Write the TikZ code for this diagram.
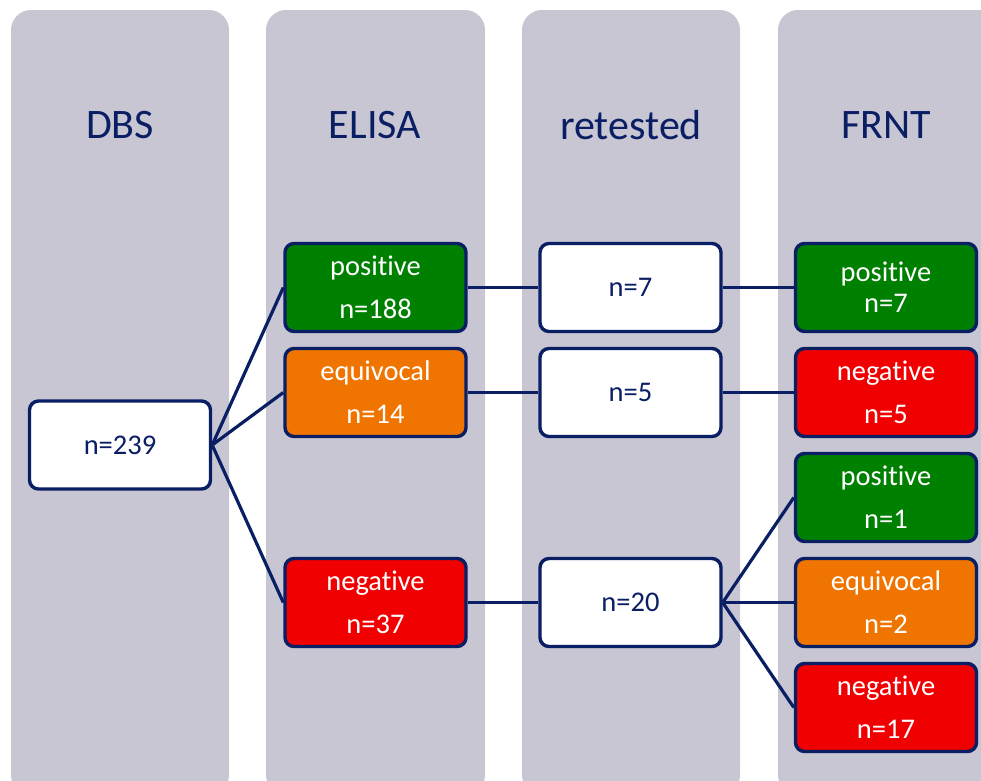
\documentclass[tikz,border=0pt]{standalone}
\usepackage{fontspec}
\setmainfont[Ligatures={NoCommon}]{Carlito}
\definecolor{navy}{RGB}{10,30,100}
\definecolor{colfill}{RGB}{200,198,210}
\definecolor{pgreen}{RGB}{0,128,0}
\definecolor{porange}{RGB}{240,117,0}
\definecolor{pred}{RGB}{240,0,0}
\begin{document}
\begin{tikzpicture}[x=1pt,y=-1pt,
  column/.style={fill=colfill, rounded corners=20pt},
  title/.style={text=navy, font=\fontsize{42}{46}\selectfont},
  box/.style={draw=navy, line width=3.4pt, rounded corners=9pt, minimum width=181pt, minimum height=88pt, inner sep=0pt, align=center, font=\fontsize{28.5}{43}\selectfont},
  wbox/.style={box, fill=white, text=navy},
  gbox/.style={box, fill=pgreen, text=white},
  obox/.style={box, fill=porange, text=white},
  rbox/.style={box, fill=pred, text=white},
  link/.style={draw=navy, line width=3.2pt}
]
\useasboundingbox (0,0) rectangle (981,780);
\clip (0,0) rectangle (981,780);
% columns
\fill[column] (11,10) rectangle (229,795);
\fill[column] (266,10) rectangle (485,795);
\fill[column] (522,10) rectangle (740,795);
\fill[column] (778,10) rectangle (1000,795);
% titles
\node[title] (tDBS) at (120,125) {DBS};
\node[title] (tELISA) at (375,125) {ELISA};
\node[title] (tRet) at (631,125) {retested};
\node[title] (tFRNT) at (886,125) {FRNT};
% boxes
\node[wbox] (dbs) at (120,445) {n=239};
\node[gbox] (epos) at (375.5,287.5) {positive\\n=188};
\node[obox] (eequ) at (375.5,392.5) {equivocal\\n=14};
\node[rbox] (eneg) at (375.5,602.5) {negative\\n=37};
\node[wbox] (r7) at (630.5,287.5) {n=7};
\node[wbox] (r5) at (630.5,392.5) {n=5};
\node[wbox] (r20) at (630.5,602.5) {n=20};
\node[gbox, font=\fontsize{28.5}{31}\selectfont] (fpos7) at (886,287.5) {positive\\n=7};
\node[rbox] (fneg5) at (886,392.5) {negative\\n=5};
\node[gbox] (fpos1) at (886,497.5) {positive\\n=1};
\node[obox] (fequ2) at (886,602.5) {equivocal\\n=2};
\node[rbox] (fneg17) at (886,707.5) {negative\\n=17};
% connectors
\draw[link] (dbs.east) -- (epos.west);
\draw[link] (dbs.east) -- (eequ.west);
\draw[link] (dbs.east) -- (eneg.west);
\draw[link] (epos.east) -- (r7.west);
\draw[link] (eequ.east) -- (r5.west);
\draw[link] (eneg.east) -- (r20.west);
\draw[link] (r7.east) -- (fpos7.west);
\draw[link] (r5.east) -- (fneg5.west);
\draw[link] (r20.east) -- (fpos1.west);
\draw[link] (r20.east) -- (fequ2.west);
\draw[link] (r20.east) -- (fneg17.west);
\end{tikzpicture}
\end{document}
